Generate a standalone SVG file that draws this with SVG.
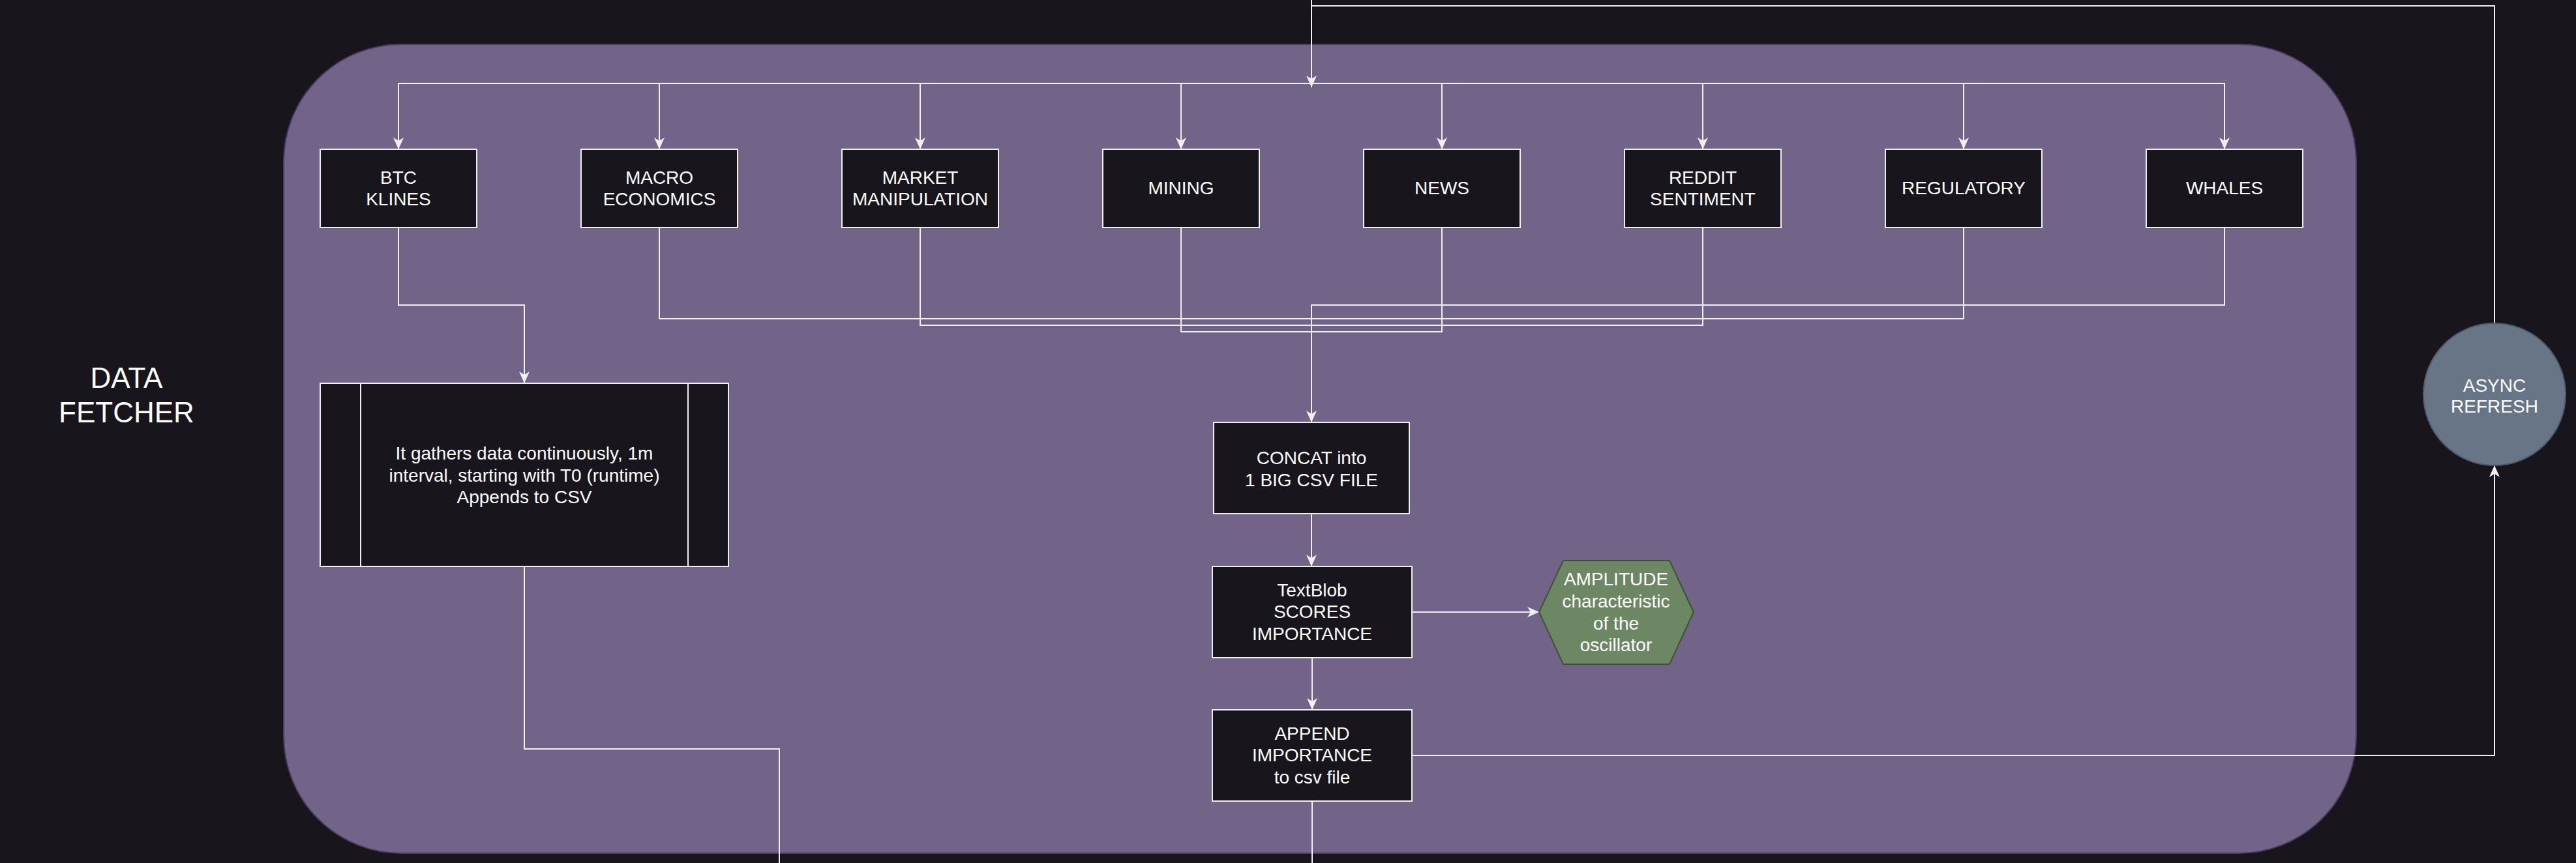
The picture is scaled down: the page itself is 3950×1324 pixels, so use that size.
<svg xmlns="http://www.w3.org/2000/svg" width="3950" height="1324" viewBox="0 0 3950 1324">
<style>
.bg{fill:#18151c}
.container{fill:#726389;stroke:#4a3a5e;stroke-width:2}
.box{fill:#18151c;stroke:#f0f0f0;stroke-width:2}
.edge{fill:none;stroke:#f0f0f0;stroke-width:2}
.t{font-family:"Liberation Sans",Arial,Helvetica,sans-serif;font-size:28px;fill:#ffffff;text-anchor:middle}
.big{font-size:44px}
</style>
<defs>
<marker id="arr" markerUnits="userSpaceOnUse" markerWidth="20" markerHeight="16" viewBox="0 0 20 16" refX="18" refY="8" orient="auto">
<path d="M0,0 L18,8 L0,16 L5,8 Z" fill="#f0f0f0"/>
</marker>
</defs>
<rect class="bg" x="0" y="0" width="3950" height="1324"/>
<g id="container">
<rect class="container" x="435" y="68" width="3178" height="1241" rx="180" ry="180"/>
</g>
<g id="label-data-fetcher">
<text class="t big" x="194" y="595">DATA</text>
<text class="t big" x="194" y="648">FETCHER</text>
</g>
<g id="connectors">
<path class="edge" d="M2011,0 V9"/>
<path class="edge" d="M3825,496 V9 H2011 V134" marker-end="url(#arr)"/>
<path class="edge" d="M2011,128 H611 V229" marker-end="url(#arr)"/>
<path class="edge" d="M2011,128 H1011 V229" marker-end="url(#arr)"/>
<path class="edge" d="M2011,128 H1411 V229" marker-end="url(#arr)"/>
<path class="edge" d="M2011,128 H1811 V229" marker-end="url(#arr)"/>
<path class="edge" d="M2011,128 H2211 V229" marker-end="url(#arr)"/>
<path class="edge" d="M2011,128 H2611 V229" marker-end="url(#arr)"/>
<path class="edge" d="M2011,128 H3011 V229" marker-end="url(#arr)"/>
<path class="edge" d="M2011,128 H3411 V229" marker-end="url(#arr)"/>
<path class="edge" d="M611,349 V468 H804 V588" marker-end="url(#arr)"/>
<path class="edge" d="M1011,349 V489 H2011"/>
<path class="edge" d="M3011,349 V489 H2011"/>
<path class="edge" d="M1411,349 V499 H2011"/>
<path class="edge" d="M2611,349 V499 H2011"/>
<path class="edge" d="M1811,349 V509 H2011"/>
<path class="edge" d="M2211,349 V509 H2011"/>
<path class="edge" d="M3411,349 V468 H2011 V648" marker-end="url(#arr)"/>
<path class="edge" d="M804,869 V1149 H1195 V1324"/>
<path class="edge" d="M2011,788 V869" marker-end="url(#arr)"/>
<path class="edge" d="M2165,939 H2360" marker-end="url(#arr)"/>
<path class="edge" d="M2012,1009 V1089" marker-end="url(#arr)"/>
<path class="edge" d="M2012,1229 V1324"/>
<path class="edge" d="M2165,1159 H3825 V714" marker-end="url(#arr)"/>
</g>
<g id="btc-klines">
<rect class="box" x="491" y="229" width="240" height="120"/>
<text class="t" x="611" y="282">BTC</text>
<text class="t" x="611" y="315">KLINES</text>
</g>
<g id="macro-economics">
<rect class="box" x="891" y="229" width="240" height="120"/>
<text class="t" x="1011" y="282">MACRO</text>
<text class="t" x="1011" y="315">ECONOMICS</text>
</g>
<g id="market-manipulation">
<rect class="box" x="1291" y="229" width="240" height="120"/>
<text class="t" x="1411" y="282">MARKET</text>
<text class="t" x="1411" y="315">MANIPULATION</text>
</g>
<g id="mining">
<rect class="box" x="1691" y="229" width="240" height="120"/>
<text class="t" x="1811" y="298">MINING</text>
</g>
<g id="news">
<rect class="box" x="2091" y="229" width="240" height="120"/>
<text class="t" x="2211" y="298">NEWS</text>
</g>
<g id="reddit-sentiment">
<rect class="box" x="2491" y="229" width="240" height="120"/>
<text class="t" x="2611" y="282">REDDIT</text>
<text class="t" x="2611" y="315">SENTIMENT</text>
</g>
<g id="regulatory">
<rect class="box" x="2891" y="229" width="240" height="120"/>
<text class="t" x="3011" y="298">REGULATORY</text>
</g>
<g id="whales">
<rect class="box" x="3291" y="229" width="240" height="120"/>
<text class="t" x="3411" y="298">WHALES</text>
</g>
<g id="gatherer">
<rect class="box" x="491" y="588" width="626" height="281"/>
<line class="box" x1="553" y1="588" x2="553" y2="869"/>
<line class="box" x1="1055" y1="588" x2="1055" y2="869"/>
<text class="t" x="804" y="705">It gathers data continuously, 1m</text>
<text class="t" x="804" y="739">interval, starting with T0 (runtime)</text>
<text class="t" x="804" y="772">Appends to CSV</text>
</g>
<g id="concat">
<rect class="box" x="1861" y="648" width="300" height="140"/>
<text class="t" x="2011" y="712">CONCAT into</text>
<text class="t" x="2011" y="746">1 BIG CSV FILE</text>
</g>
<g id="textblob">
<rect class="box" x="1859" y="869" width="306" height="140"/>
<text class="t" x="2012" y="915">TextBlob</text>
<text class="t" x="2012" y="948">SCORES</text>
<text class="t" x="2012" y="982">IMPORTANCE</text>
</g>
<g id="append">
<rect class="box" x="1859" y="1089" width="306" height="140"/>
<text class="t" x="2012" y="1135">APPEND</text>
<text class="t" x="2012" y="1168">IMPORTANCE</text>
<text class="t" x="2012" y="1202">to csv file</text>
</g>
<g id="amplitude">
<polygon points="2360,939 2397,860 2560,860 2597,939 2560,1019 2397,1019" fill="#6d8764" stroke="#3a5431" stroke-width="2"/>
<text class="t" x="2478" y="898">AMPLITUDE</text>
<text class="t" x="2478" y="932">characteristic</text>
<text class="t" x="2478" y="966">of the</text>
<text class="t" x="2478" y="999">oscillator</text>
</g>
<g id="async-refresh">
<circle cx="3825" cy="605" r="109" fill="#677586" stroke="#4d5a69" stroke-width="2"/>
<text class="t" x="3825" y="601">ASYNC</text>
<text class="t" x="3825" y="633">REFRESH</text>
</g>
</svg>
